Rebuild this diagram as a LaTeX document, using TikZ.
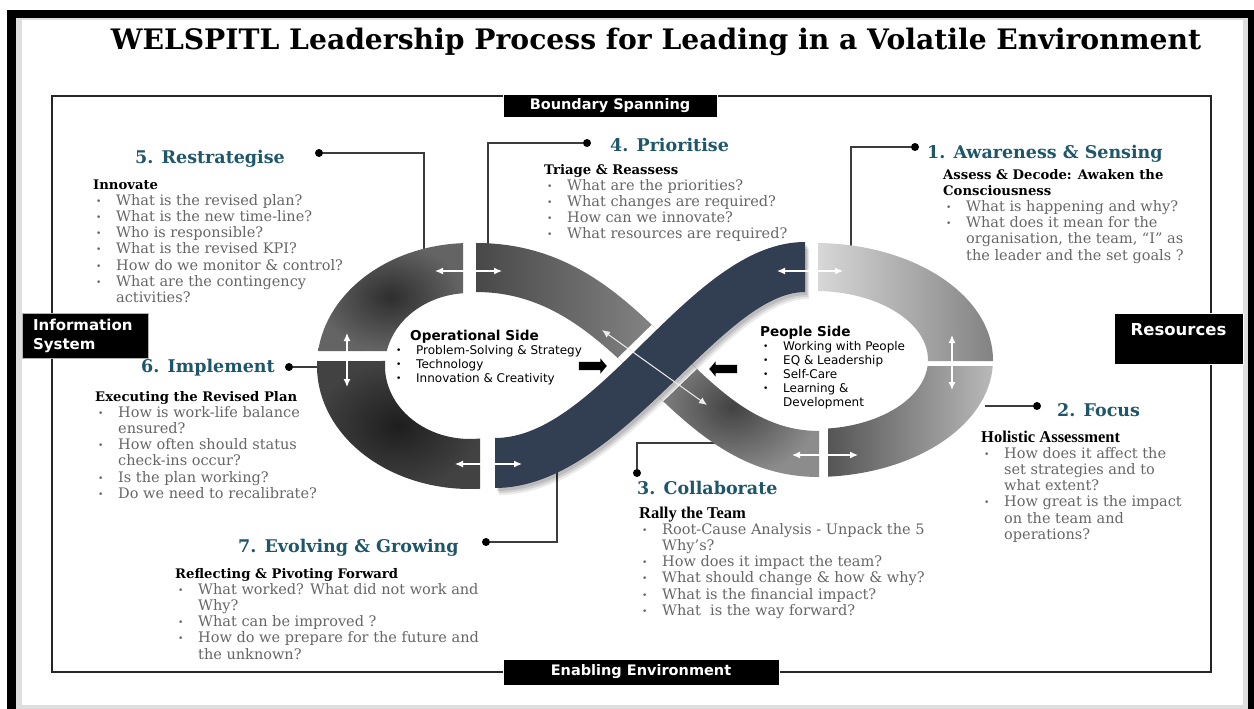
\documentclass[tikz,border=0pt]{standalone}
\usepackage{fontspec}
\setmainfont{DejaVu Serif}
\setsansfont{DejaVu Sans}
\newfontfamily\narrowserif{Liberation Serif}
\usetikzlibrary{calc, positioning, arrows.meta, shapes.arrows}

\definecolor{headteal}{RGB}{30,86,106}
\definecolor{bodygray}{RGB}{102,102,102}
\definecolor{navyband}{RGB}{50,62,82}
\definecolor{linegray}{RGB}{60,60,60}
\definecolor{pagegray}{RGB}{222,222,222}
\definecolor{segfivein}{RGB}{46,46,46}
\definecolor{segfiveout}{RGB}{100,100,100}
\definecolor{segsixin}{RGB}{30,30,30}
\definecolor{segsixout}{RGB}{66,66,66}
\definecolor{segfourL}{RGB}{72,72,72}
\definecolor{segfourR}{RGB}{135,135,135}
\definecolor{segthreein}{RGB}{66,66,66}
\definecolor{segthreeout}{RGB}{140,140,140}
\definecolor{segoneL}{RGB}{215,215,215}
\definecolor{segoneR}{RGB}{130,130,130}
\definecolor{segtwoL}{RGB}{85,85,85}
\definecolor{segtwoR}{RGB}{185,185,185}

\newcommand{\bul}{\raisebox{1pt}{\fontsize{9}{9}\selectfont\textbullet}}
\newcommand{\qitem}[1]{\hspace*{3pt}\makebox[20pt][l]{\bul}#1}
\newcommand{\qcont}[1]{\hspace*{23pt}#1}
\newcommand{\subhd}[1]{{\color{black}\fontsize{13.2}{16.2}\selectfont\bfseries #1}}
\newcommand{\subnarrow}[1]{{\color{black}\narrowserif\fontsize{16.5}{16.2}\selectfont\bfseries #1}}
\newcommand{\sidehd}[1]{{\fontsize{13.6}{14}\selectfont\bfseries #1}}

\newcommand{\navypath}{(495,438) .. controls (600,438) and (690,242) .. (805,242) -- (805,292) .. controls (720,292) and (620,488) .. (495,488) -- cycle}
\newcommand{\segfourpath}{(476,243) .. controls (563,243) and (616.5,290) .. (664.4,337) -- (645.6,384.5) .. controls (597.75,338.25) and (550.5,292) .. (476,292) -- cycle}
\newcommand{\segthreepath}{(664.4,337) .. controls (712.25,384) and (754.5,431) .. (819,431) -- (819,477) .. controls (742,477) and (693.5,430.75) .. (645.6,384.5) -- cycle}

\begin{document}
\begin{tikzpicture}[x=1pt, y=-1pt,
    stage/.style={anchor=base west, inner sep=0pt, text=headteal, font=\fontsize{17.5}{20}\selectfont\bfseries},
    qlist/.style={anchor=base west, align=left, inner sep=0pt, text=bodygray, font=\fontsize{14.5}{16.2}\selectfont},
    sidelist/.style={anchor=base west, align=left, inner sep=0pt, text=black, font=\sffamily\fontsize{12}{14}\selectfont},
    tag/.style={fill=black, draw=white, line width=1pt, text=white, inner sep=0pt, font=\sffamily\bfseries\fontsize{14.5}{17}\selectfont},
    dot/.style={circle, fill=black, inner sep=0pt, minimum size=8pt},
    conn/.style={draw=linegray, line width=1.3pt},
    warrow/.style={draw=white, line width=1.3pt, arrows={Latex[length=8pt,width=7pt]-Latex[length=8pt,width=7pt]}},
    push/.style={single arrow, fill=black, inner xsep=0pt, inner ysep=4pt, minimum height=28pt, single arrow head extend=3.5pt, single arrow tip angle=100}]

    \useasboundingbox (0,0) rectangle (1254,709);
    \fill[white] (0,0) rectangle (1254,709);
    \fill[black] (7,10) rectangle (1254,709);
    \fill[pagegray] (16,18) rectangle (1248,709);
    \fill[white] (22,20) rectangle (1243,705);

    \node[anchor=base, inner sep=0pt, font=\fontsize{28.2}{30}\selectfont\bfseries] (title) at (656,50) {WELSPITL Leadership Process for Leading in a Volatile Environment};

    \draw[line width=1.5pt, black!85] (52,96) rectangle (1211,672);
    \node[tag, minimum width=214pt, minimum height=22pt] (bspan) at (610,106) {Boundary Spanning};
    \node[tag, draw=gray!60, minimum width=126pt, minimum height=45pt, text width=104pt, inner xsep=11pt, align=left, font=\sffamily\bfseries\fontsize{15}{19}\selectfont] (infosys) at (85,335.5) {Information\\System};
    \node[tag, minimum width=129pt, minimum height=51pt, align=center, font=\sffamily\bfseries\fontsize{16.5}{19}\selectfont] (resrc) at (1178.5,338.5) {Resources\\ \mbox{}};
    \node[tag, minimum width=276pt, minimum height=26pt] (enable) at (641,672) {Enabling Environment};

    \node[dot] (d5) at (319,153) {};
    \node[dot] (d4) at (587,143) {};
    \node[dot] (d1) at (915,147) {};
    \node[dot] (d6) at (289,367) {};
    \node[dot] (d2) at (1037,406) {};
    \node[dot] (d3) at (637,473) {};
    \node[dot] (d7) at (486,542) {};
    \coordinate (e5) at (424,252);
    \coordinate (e4) at (488,250);
    \coordinate (e1) at (851,250);
    \coordinate (e6) at (327,367);
    \coordinate (e2) at (985,406);
    \coordinate (e3) at (716,443);
    \coordinate (e7) at (557,468);
    \draw[conn] (d5) -| (e5);
    \draw[conn] (d4) -| (e4);
    \draw[conn] (d1) -| (e1);
    \draw[conn] (d6) -- (e6);
    \draw[conn] (d2) -- (e2);
    \draw[conn] (d3) |- (e3);
    \draw[conn] (d7) -| (e7);

    \coordinate (CL) at (470,366);
    \coordinate (CR) at (815,360);
    \path[shade, inner color=segfivein, outer color=segfiveout]
        ($(CL)+(92.62:153pt and 123pt)$) arc[start angle=92.62, end angle=173, x radius=153pt, y radius=123pt]
        -- ($(CL)+(168.14:85pt and 73pt)$) arc[start angle=168.14, end angle=94.72, x radius=85pt, y radius=73pt] -- cycle;
    \path[shade, inner color=segsixin, outer color=segsixout]
        ($(CL)+(177.67:153pt and 123pt)$) arc[start angle=177.67, end angle=273.75, x radius=153pt, y radius=123pt]
        -- ($(CL)+(276.76:85pt and 73pt)$) arc[start angle=276.76, end angle=176.07, x radius=85pt, y radius=73pt] -- cycle;
    \path[shade, left color=segoneL, right color=segoneR]
        ($(CR)+(89.03:178pt and 117pt)$) arc[start angle=89.03, end angle=-0.49, x radius=178pt, y radius=117pt]
        -- ($(CR)+(-0.83:113pt and 69pt)$) arc[start angle=-0.83, end angle=88.48, x radius=113pt, y radius=69pt] -- cycle;
    \path[shade, left color=segtwoL, right color=segtwoR]
        ($(CR)+(-2.94:178pt and 117pt)$) arc[start angle=-2.94, end angle=-85.81, x radius=178pt, y radius=117pt]
        -- ($(CR)+(-83.39:113pt and 69pt)$) arc[start angle=-83.39, end angle=-4.99, x radius=113pt, y radius=69pt] -- cycle;
    \path[shade, left color=segfourL, right color=segfourR] \segfourpath;
    \path[shade, inner color=segthreein, outer color=segthreeout] \segthreepath;

    \begin{scope}
        \clip \segfourpath;
        \draw[white, line width=14pt] \navypath;
    \end{scope}
    \begin{scope}
        \clip \segthreepath;
        \draw[white, line width=14pt] \navypath;
    \end{scope}
    \fill[black, opacity=0.10, shift={(2,3)}] \navypath;
    \fill[black, opacity=0.10, shift={(3,5)}] \navypath;
    \fill[black, opacity=0.08, shift={(4,7)}] \navypath;
    \fill[navyband] \navypath;

    \coordinate (a1l) at (435,271);  \coordinate (a1r) at (502,271);
    \coordinate (a2t) at (347,333);  \coordinate (a2b) at (347,387);
    \coordinate (a3l) at (455,464);  \coordinate (a3r) at (522,464);
    \coordinate (a4l) at (777,271);  \coordinate (a4r) at (843,271);
    \coordinate (a5t) at (952,335);  \coordinate (a5b) at (952,390);
    \coordinate (a6l) at (792,455);  \coordinate (a6r) at (858,455);
    \coordinate (a7t) at (602,330);  \coordinate (a7b) at (707,405);
    \draw[warrow] (a1l) -- (a1r);
    \draw[warrow] (a2t) -- (a2b);
    \draw[warrow] (a3l) -- (a3r);
    \draw[warrow] (a4l) -- (a4r);
    \draw[warrow] (a5t) -- (a5b);
    \draw[warrow] (a6l) -- (a6r);
    \draw[warrow, draw=gray!15, line width=1pt] (a7t) -- (a7b);

    \node[push] (pushin) at (591,366) {};
    \node[push, shape border rotate=180] (pushout) at (725,369) {};

    \node[sidelist] (ops) at (396,382) {\hspace*{14pt}\sidehd{Operational Side}\\
        \makebox[20pt][l]{\bul}Problem-Solving \& Strategy\\
        \makebox[20pt][l]{\bul}Technology\\
        \makebox[20pt][l]{\bul}Innovation \& Creativity};
    \node[sidelist] (people) at (760,406) {\sidehd{People Side}\\
        \qitem{Working with People}\\
        \qitem{EQ \& Leadership}\\
        \qitem{Self-Care}\\
        \qitem{Learning \&}\\
        \qcont{Development}};

    \node[stage] (t1) at (927,158) {1. Awareness \& Sensing};
    \node[qlist] (q1) at (943,260) {\subhd{Assess \& Decode: Awaken the}\\
        \subhd{Consciousness}\\
        \qitem{What is happening and why?}\\
        \qitem{What does it mean for the}\\
        \qcont{organisation, the team, “I” as}\\
        \qcont{the leader and the set goals ?}};

    \node[stage] (t2) at (1057,416) {2. Focus};
    \node[qlist] (q2) at (981,539.2) {\subnarrow{Holistic Assessment}\\
        \qitem{How does it affect the}\\
        \qcont{set strategies and to}\\
        \qcont{what extent?}\\
        \qitem{How great is the impact}\\
        \qcont{on the team and}\\
        \qcont{operations?}};

    \node[stage] (t3) at (637,494) {3. Collaborate};
    \node[qlist] (q3) at (639,615.2) {\subnarrow{Rally the Team}\\
        \qitem{Root-Cause Analysis - Unpack the 5}\\
        \qcont{Why’s?}\\
        \qitem{How does it impact the team?}\\
        \qitem{What should change \& how \& why?}\\
        \qitem{What is the financial impact?}\\
        \qitem{What\ \ is the way forward?}};

    \node[stage] (t4) at (610,151) {4. Prioritise};
    \node[qlist] (q4) at (544,238.8) {\subhd{Triage \& Reassess}\\
        \qitem{What are the priorities?}\\
        \qitem{What changes are required?}\\
        \qitem{How can we innovate?}\\
        \qitem{What resources are required?}};

    \node[stage] (t5) at (135,163) {5. Restrategise};
    \node[qlist] (q5) at (93,302.4) {\subhd{Innovate}\\
        \qitem{What is the revised plan?}\\
        \qitem{What is the new time-line?}\\
        \qitem{Who is responsible?}\\
        \qitem{What is the revised KPI?}\\
        \qitem{How do we monitor \& control?}\\
        \qitem{What are the contingency}\\
        \qcont{activities?}};

    \node[stage] (t6) at (141,372) {6. Implement};
    \node[qlist] (q6) at (95,498.2) {\subhd{Executing the Revised Plan}\\
        \qitem{How is work-life balance}\\
        \qcont{ensured?}\\
        \qitem{How often should status}\\
        \qcont{check-ins occur?}\\
        \qitem{Is the plan working?}\\
        \qitem{Do we need to recalibrate?}};

    \node[stage] (t7) at (238,552) {7. Evolving \& Growing};
    \node[qlist] (q7) at (175,659) {\subhd{Reflecting \& Pivoting Forward}\\
        \qitem{What worked? What did not work and}\\
        \qcont{Why?}\\
        \qitem{What can be improved ?}\\
        \qitem{How do we prepare for the future and}\\
        \qcont{the unknown?}};

\end{tikzpicture}
\end{document}
